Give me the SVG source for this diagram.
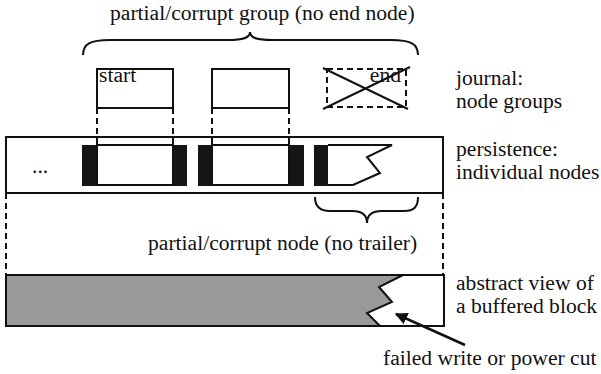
<svg xmlns="http://www.w3.org/2000/svg" width="601" height="374" viewBox="0 0 601 374">
<defs>
<style>
.t{font-family:"Liberation Serif","Times New Roman",serif;font-size:21.6px;fill:#111}
.ln{fill:none;stroke:#111;stroke-width:2}
.box{fill:#fff;stroke:#111;stroke-width:2}
.dash{fill:none;stroke:#111;stroke-width:2;stroke-dasharray:6 4}
.blk{fill:#151515}
</style>
<marker id="ah" viewBox="0 0 10 10" refX="9" refY="5" markerWidth="5" markerHeight="5" orient="auto">
<path d="M0,0 L10,5 L0,10 z" fill="#111"/>
</marker>
</defs>
<rect width="601" height="374" fill="#fff"/>

<g id="labels">
<text class="t" x="110" y="20">partial/corrupt group (no end node)</text>
<text class="t" x="456" y="85">journal:</text>
<text class="t" x="456" y="108">node groups</text>
<text class="t" x="456" y="156">persistence:</text>
<text class="t" x="456" y="179">individual nodes</text>
<text class="t" x="148" y="250">partial/corrupt node (no trailer)</text>
<text class="t" x="456" y="290">abstract view of</text>
<text class="t" x="456" y="313">a buffered block</text>
<text class="t" x="383" y="365">failed write or power cut</text>
</g>

<g id="group-brace">
<path class="ln" d="M83,55 C83,44 90,40 110,40 L228,40 C243,40 250,38 250,32 C250,38 257,40 272,40 L391,40 C411,40 418,44 418,55"/>
</g>

<g id="journal-start">
<rect class="box" x="97" y="69" width="76" height="39"/>
<text class="t" x="99" y="82">start</text>
</g>
<g id="journal-mid">
<rect class="box" x="212" y="69" width="77" height="39"/>
</g>
<g id="journal-end">
<rect x="327" y="69" width="79" height="38" fill="none" stroke="#111" stroke-width="2" stroke-dasharray="6 4"/>
<text class="t" x="401" y="82" text-anchor="end">end</text>
<line class="ln" x1="323" y1="68" x2="408" y2="109"/>
<line class="ln" x1="323" y1="109" x2="410" y2="67"/>
</g>

<g id="persistence-strip">
<rect class="box" x="6" y="137" width="437" height="56"/>
<text class="t" x="32" y="173">...</text>
</g>
<g id="node1">
<rect class="blk" x="82" y="145" width="15" height="41"/>
<rect class="blk" x="173" y="145" width="14" height="41"/>
<rect class="box" x="97" y="145" width="76" height="40"/>
</g>
<g id="node2">
<rect class="blk" x="198" y="145" width="15" height="41"/>
<rect class="blk" x="289" y="145" width="15" height="41"/>
<rect class="box" x="212" y="145" width="77" height="40"/>
</g>
<g id="node3">
<rect class="blk" x="314" y="145" width="15" height="41"/>
<path class="box" d="M328,145 L392,145 L367,157 L380,173 L353,185 L328,185"/>
</g>

<g id="node-brace">
<path class="ln" d="M315,197 C315,207 320,211 330,211 L352,211 C362,211 367,215 367,223 C367,215 372,211 382,211 L404,211 C414,211 418,207 418,197"/>
</g>

<g id="buffered-block">
<rect class="box" x="6" y="275" width="438" height="51"/>
<path d="M6,275 L403,275 L379,287 L392,302 L367,313 L380,326 L6,326 z" fill="#999"/>
<path class="ln" d="M403,275 L379,287 L392,302 L367,313 L380,326"/>
<rect x="6" y="275" width="438" height="51" fill="none" stroke="#111" stroke-width="2"/>
</g>

<g id="connectors">
<line class="dash" x1="97" y1="108" x2="97" y2="145"/>
<line class="dash" x1="173" y1="108" x2="173" y2="145"/>
<line class="dash" x1="212" y1="108" x2="212" y2="145"/>
<line class="dash" x1="289" y1="108" x2="289" y2="145"/>
<line class="dash" x1="6" y1="193" x2="6" y2="275"/>
<line class="dash" x1="443" y1="193" x2="443" y2="275"/>
<line x1="465" y1="345" x2="396" y2="314" stroke="#111" stroke-width="2.5" marker-end="url(#ah)"/>
</g>
</svg>
